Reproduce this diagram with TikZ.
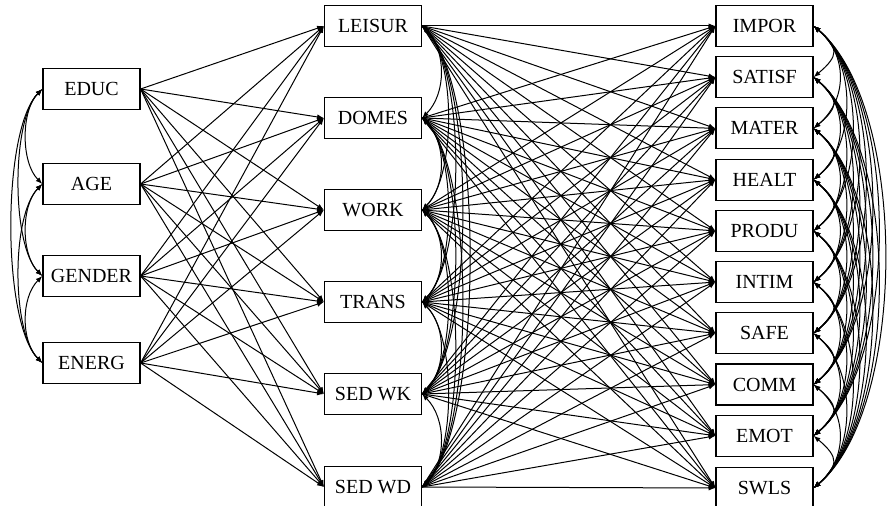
\documentclass[tikz,border=0pt]{standalone}
\usepackage{fontspec}
\setmainfont{Liberation Serif}
\usetikzlibrary{arrows.meta}

\begin{document}
\begin{tikzpicture}[x=0.5pt,y=0.5pt,
    var/.style={draw, line width=0.6pt, minimum width=48.5pt, minimum height=20.5pt,
        inner sep=0pt, font=\fontsize{10}{12}\selectfont},
    path/.style={line width=0.5pt, -{Latex[length=3.4pt,width=2.6pt]}},
    cov/.style={line width=0.5pt, {Latex[length=3.4pt,width=2.6pt]}-{Latex[length=3.4pt,width=2.6pt]}}]
    \useasboundingbox (0,0) rectangle (888,-506);

    % the background variables
    \node[var] (p1) at (91.5,-89) {EDUC};
    \node[var] (p2) at (91.5,-184) {AGE};
    \node[var] (p3) at (91.5,-276) {GENDER};
    \node[var] (p4) at (91.5,-363) {ENERG};

    % the activities
    \node[var] (a1) at (373,-26) {LEISUR};
    \node[var] (a2) at (373,-118) {DOMES};
    \node[var] (a3) at (373,-210) {WORK};
    \node[var] (a4) at (373,-302) {TRANS};
    \node[var] (a5) at (373,-394) {SED WK};
    \node[var] (a6) at (373,-487) {SED WD};

    % the well-being outcomes
    \node[var] (w1) at (764.5,-26) {IMPOR};
    \node[var] (w2) at (764.5,-77.2) {SATISF};
    \node[var] (w3) at (764.5,-128.4) {MATER};
    \node[var] (w4) at (764.5,-179.7) {HEALT};
    \node[var] (w5) at (764.5,-230.9) {PRODU};
    \node[var] (w6) at (764.5,-282.1) {INTIM};
    \node[var] (w7) at (764.5,-333.3) {SAFE};
    \node[var] (w8) at (764.5,-384.6) {COMM};
    \node[var] (w9) at (764.5,-435.8) {EMOT};
    \node[var] (w10) at (764.5,-488) {SWLS};

    % the direct paths
    \foreach \i in {1,...,4}
        \foreach \j in {1,...,6}
            \draw[path] (p\i.east) -- (a\j.west);
    \foreach \i in {1,...,6}
        \foreach \j in {1,...,10}
            \draw[path] (a\i.east) -- (w\j.west);

    % the covariances (bigger bow for pairs further apart)
    \foreach \i in {1,...,4}
        \foreach \j in {1,...,4}{
            \ifnum\j>\i
                \pgfmathsetmacro\dd{0.5*(17+13.5*(\j-\i))}
                \draw[cov] (p\i.west) to[out=225,in=135,distance=\dd pt] (p\j.west);
            \fi
        }
    \foreach \i in {1,...,6}
        \foreach \j in {1,...,6}{
            \ifnum\j>\i
                \pgfmathsetmacro\dd{0.5*(21+13.5*(\j-\i))}
                \draw[cov] (a\i.east) to[out=-45,in=45,distance=\dd pt] (a\j.east);
            \fi
        }
    \foreach \i in {1,...,10}
        \foreach \j in {1,...,10}{
            \ifnum\j>\i
                \pgfmathsetmacro\dd{0.5*(22+11.3*(\j-\i))}
                \draw[cov] (w\i.east) to[out=-40,in=40,distance=\dd pt] (w\j.east);
            \fi
        }

\end{tikzpicture}
\end{document}
